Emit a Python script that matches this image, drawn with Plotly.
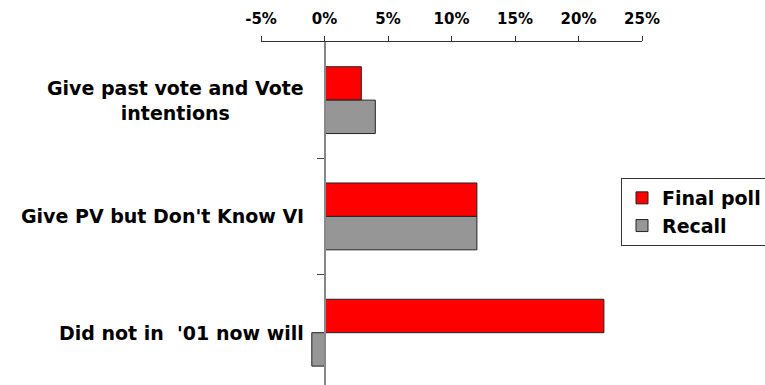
import plotly.graph_objects as go

# Survey groups, in top-to-bottom order
categories = [
    "Give past vote and Vote<br>intentions",
    "Give PV but Don't Know VI",
    "Did not in  '01 now will",
]
final_poll = [2.9, 12.0, 22.0]   # percent
recall = [4.0, 12.0, -1.0]       # percent

x_ticks = [-5, 0, 5, 10, 15, 20, 25]
X_MIN, X_MAX = -5, 25

FONT = "DejaVu Sans"
idx = list(range(len(categories)))

fig = go.Figure()
fig.add_trace(go.Bar(
    name="Final poll", y=idx, x=final_poll, orientation="h",
    marker=dict(color="#FF0000", line=dict(color="#222222", width=1)),
))
fig.add_trace(go.Bar(
    name="Recall", y=idx, x=recall, orientation="h",
    marker=dict(color="#969696", line=dict(color="#222222", width=1)),
))

# y axis sits at x = 0, expressed as a fraction of the x range
zero_pos = (0 - X_MIN) / (X_MAX - X_MIN)

fig.update_layout(
    width=765, height=385, autosize=False,
    margin=dict(l=261, r=123, t=42, b=0, pad=0, autoexpand=False),
    paper_bgcolor="white", plot_bgcolor="white",
    barmode="group", bargap=0.425, bargroupgap=0,
    font=dict(family=FONT, color="black"),
    xaxis=dict(
        side="top", range=[X_MIN, X_MAX], tickvals=x_ticks,
        ticktext=[f"{v}%" for v in x_ticks],
        showgrid=False, zeroline=False,
        showline=True, linecolor="#333333", linewidth=1,
        ticks="outside", ticklen=5, tickcolor="#333333", tickwidth=1,
        tickfont=dict(family=FONT, size=15, weight="bold", color="black"),
        ticklabelstandoff=6,
    ),
    yaxis=dict(
        type="linear", range=[2.45, -0.5],
        anchor="free", position=zero_pos,
        showgrid=False, zeroline=False,
        showline=True, linecolor="#888888", linewidth=2,
        tickvals=[0.5, 1.5], ticks="outside", ticklen=7,
        tickcolor="#444444", tickwidth=1,
        showticklabels=False,
    ),
    legend=dict(
        xref="container", yref="container",
        x=621 / 765, y=1 - 178 / 385, xanchor="left", yanchor="top",
        bgcolor="white", bordercolor="#333333", borderwidth=1,
        font=dict(family=FONT, size=19, weight="bold", color="black"),
        traceorder="normal", itemwidth=30, tracegroupgap=0,
    ),
    showlegend=True,
)

# Category labels, centred text to the left of the zero axis
for i, label in zip(idx, categories):
    fig.add_annotation(
        xref="paper", yref="y", x=zero_pos, y=i,
        text=label, showarrow=False, xanchor="right", yanchor="middle",
        xshift=-19, align="center",
        font=dict(family=FONT, size=19, weight="bold", color="black"),
    )

fig.write_html("out.html")
